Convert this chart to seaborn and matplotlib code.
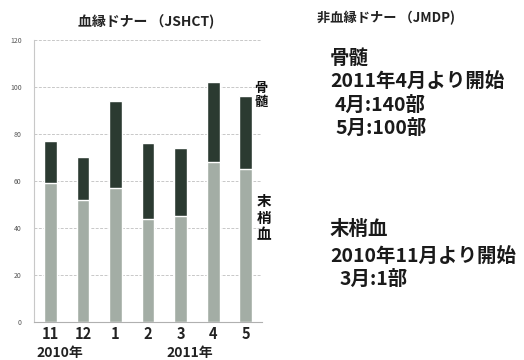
import matplotlib
matplotlib.use("Agg")
import matplotlib.pyplot as plt
import seaborn as sns
import pandas as pd

# Monthly related-donor transplants (JSHCT), Nov 2010 - May 2011
months = ["11", "12", "1", "2", "3", "4", "5"]
peripheral_blood = [59, 52, 57, 44, 45, 68, 65]   # 末梢血
bone_marrow = [18, 18, 37, 32, 29, 34, 31]        # 骨髄
y_ticks = [0, 20, 40, 60, 80, 100, 120]

totals = [p + b for p, b in zip(peripheral_blood, bone_marrow)]
df = pd.DataFrame({"month": months, "total": totals, "pb": peripheral_blood})

sns.set_theme(style="white")
plt.rcParams["font.family"] = ["Noto Sans CJK JP", "DejaVu Sans"]

DARK = "#2b3a31"
LIGHT = "#a3ada5"

fig = plt.figure(figsize=(5.24, 3.6), dpi=100)
ax = fig.add_axes([0.065, 0.1056, 0.435, 0.7834])

# stacked bars: full height in dark, lower part in light
sns.barplot(data=df, x="month", y="total", color=DARK, width=0.39,
            saturation=1, ax=ax)
sns.barplot(data=df, x="month", y="pb", color=LIGHT, width=0.39,
            saturation=1, ax=ax)

ax.set_xlim(-0.5, 6.5)
ax.set_ylim(0, 120)
ax.set_yticks(y_ticks)
ax.set_yticklabels([str(t) for t in y_ticks], fontsize=5, color="#555555")
ax.tick_params(axis="y", length=0, pad=9)
ax.tick_params(axis="x", length=0, pad=3)
ax.set_xticks(range(len(months)))
ax.set_xticklabels(months, fontsize=10.5, fontweight="bold", color="#222222")
ax.set_xlabel("")
ax.set_ylabel("")
ax.yaxis.grid(True, color="#c8c8c8", linestyle=(0, (3, 1.5)), linewidth=0.7)
ax.set_axisbelow(True)
for side in ["top", "right"]:
    ax.spines[side].set_visible(False)
ax.spines["left"].set_color("#c8c8c8")
ax.spines["bottom"].set_color("#b0b0b0")
ax.spines["left"].set_linewidth(0.8)
ax.spines["bottom"].set_linewidth(0.8)

# year labels under the month ticks
fig.text(60 / 524, 1 - 353 / 360, "2010年", fontsize=10, fontweight="bold",
         ha="center", va="center", color="#222222")
fig.text(190 / 524, 1 - 353 / 360, "2011年", fontsize=10, fontweight="bold",
         ha="center", va="center", color="#222222")

# chart title
fig.text(146 / 524, 1 - 22 / 360, "血縁ドナー （JSHCT)", fontsize=10,
         fontweight="bold", ha="center", va="center", color="#222222")

# segment labels at the right of the bars
fig.text(261 / 524, 1 - 95 / 360, "骨\n髄", fontsize=9.5, fontweight="bold",
         ha="center", va="center", linespacing=1.0, color="#111111")
fig.text(264 / 524, 1 - 218 / 360, "末\n梢\n血", fontsize=10.5, fontweight="bold",
         ha="center", va="center", linespacing=1.05, color="#111111")

# unrelated donors (JMDP) notes
fig.text(317 / 524, 1 - 18 / 360, "非血縁ドナー （JMDP)", fontsize=9.5,
         fontweight="bold", ha="left", va="center", color="#222222")

notes = [
    (330, 58, "骨髄"),
    (330, 81, "2011年4月より開始"),
    (335, 105, "4月:140部"),
    (335, 128, "5月:100部"),
    (330, 230, "末梢血"),
    (330, 256, "2010年11月より開始"),
    (340, 279, "3月:1部"),
]
for x, y, s in notes:
    fig.text(x / 524, 1 - y / 360, s, fontsize=14, fontweight="bold",
             ha="left", va="center", color="#1a1a1a")

fig.savefig("out.png", dpi=100)
